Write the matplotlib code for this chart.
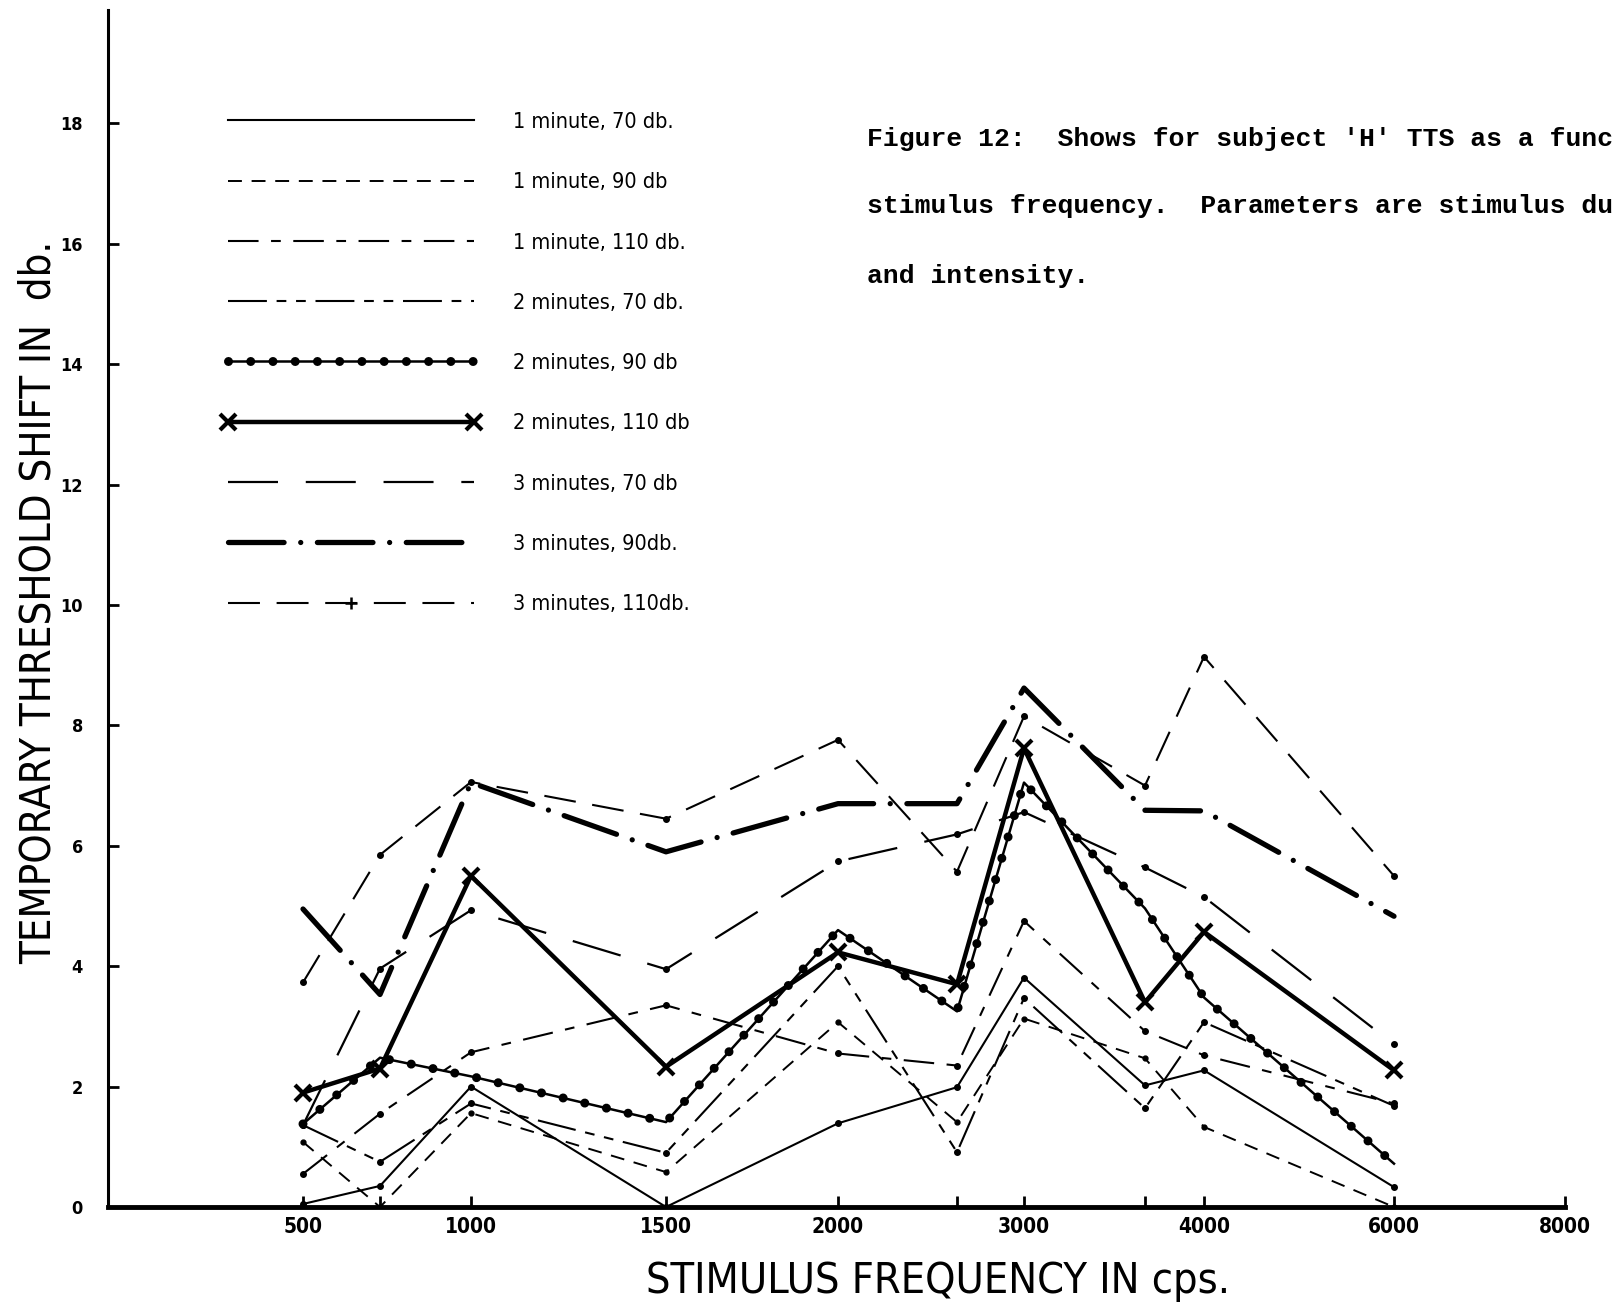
import numpy as np
import matplotlib
matplotlib.use("Agg")
import matplotlib.pyplot as plt
from matplotlib.lines import Line2D
from matplotlib.legend_handler import HandlerLine2D

plt.rcParams['lines.scale_dashes'] = False

# stimulus frequencies (cps) and TTS (db) for subject 'H'
freqs = [500, 750, 1000, 1500, 2000, 2500, 3000, 3500, 4000, 6000]
min1_70db = [0.05, 0.35, 2.0, 0.0, 1.39, 1.99, 3.81, 2.02, 2.27, 0.33]
min1_90db = [1.08, 0.0, 1.56, 0.58, 3.07, 1.41, 3.13, 2.47, 1.33, 0.0]
min1_110db = [0.55, 1.55, 2.57, 3.35, 2.55, 2.35, 4.75, 2.92, 2.52, 1.72]
min2_70db = [1.36, 0.75, 1.72, 0.9, 4.0, 0.91, 3.47, 1.64, 3.07, 1.68]
min2_90db = [1.38, 2.48, 2.17, 1.41, 4.6, 3.25, 7.05, 4.96, 3.48, 0.72]
min2_110db = [1.9, 2.3, 5.5, 2.33, 4.23, 3.7, 7.62, 3.4, 4.57, 2.27]
min3_70db = [1.36, 3.96, 4.93, 3.95, 5.74, 6.19, 6.56, 5.64, 5.15, 2.7]
min3_90db = [4.95, 3.53, 7.05, 5.9, 6.7, 6.7, 8.62, 6.59, 6.58, 4.83]
min3_110db = [3.73, 5.85, 7.06, 6.45, 7.76, 5.57, 8.15, 7.0, 9.14, 5.5]

legend_labels = ["1 minute, 70 db.", "1 minute, 90 db", "1 minute, 110 db.",
                 "2 minutes, 70 db.", "2 minutes, 90 db", "2 minutes, 110 db",
                 "3 minutes, 70 db", "3 minutes, 90db.", "3 minutes, 110db."]
xtick_freqs = [500, 1000, 1500, 2000, 3000, 4000, 6000, 8000]
xminor_freqs = [750, 2500, 3500]
yticks = [0, 2, 4, 6, 8, 10, 12, 14, 16, 18]

# the hand-drawn frequency axis is not linear: where each frequency sits (figure px)
axis_freqs = [0, 500, 750, 1000, 1500, 2000, 2500, 3000, 3500, 4000, 6000, 8000]
axis_px = [108, 303, 380, 471, 666, 838, 957, 1024, 1145, 1204, 1394, 1565]


def fwd(f):
    return np.interp(f, axis_freqs, axis_px)


def inv(p):
    return np.interp(p, axis_px, axis_freqs)


W, H = 1613, 1314
ink = 'black'
lettering = dict(family='DejaVu Sans', stretch='condensed')

fig = plt.figure(figsize=(W / 100, H / 100), dpi=100)
ax = fig.add_axes([108 / W, 1 - 1207 / H, (1565 - 108) / W, (1207 - 10) / H])
ax.set_xscale('function', functions=(fwd, inv))
ax.set_xlim(0, 8000)
ax.set_ylim(0, (1207 - 10) / 60.2)

# styles
st1_70 = dict(color=ink, lw=1.5)
st1_90 = dict(color=ink, lw=1.4, ls=(0, (10, 7)))
st1_110 = dict(color=ink, lw=1.5, ls=(0, (22, 9, 7, 9)))
st2_70 = dict(color=ink, lw=1.5, ls=(0, (28, 7, 7, 7, 7, 7)))
st2_90 = dict(color=ink, lw=1.8)
st2_90dots = dict(color=ink, lw=6.5, ls=(0, (0.01, 16)), dash_capstyle='round')
st2_110 = dict(color=ink, lw=3.2, marker='x', ms=11, mew=3)
st3_70 = dict(color=ink, lw=1.6, ls=(0, (36, 20)))
st3_90 = dict(color=ink, lw=3.8, ls=(0, (40, 12, 0.01, 12)), dash_capstyle='round')
st3_110 = dict(color=ink, lw=1.5, ls=(0, (23, 12)))
pt = dict(marker='o', ms=4)

ax.plot(freqs, min1_70db, **st1_70, **pt)
ax.plot(freqs, min1_90db, **st1_90, marker='o', ms=3.5)
ax.plot(freqs, min1_110db, **st1_110, **pt)
ax.plot(freqs, min2_70db, **st2_70, **pt)
ax.plot(freqs, min3_70db, **st3_70, **pt)
ax.plot(freqs, min3_110db, **st3_110, **pt)
ax.plot(freqs, min3_90db, **st3_90)
ax.plot(freqs, min2_90db, **st2_90)
ax.plot(freqs, min2_90db, **st2_90dots)
ax.plot(freqs, min2_110db, **st2_110)

# legend
plus_mark = Line2D([], [], color=ink, ls='none', marker='+', ms=8, mew=1.8)
handles = [Line2D([], [], **st1_70), Line2D([], [], **st1_90), Line2D([], [], **st1_110),
           Line2D([], [], **st2_70),
           (Line2D([], [], **st2_90), Line2D([], [], **st2_90dots)),
           Line2D([], [], **st2_110),
           Line2D([], [], **st3_70), Line2D([], [], **st3_90),
           (Line2D([], [], **st3_110), plus_mark)]
ax.legend(handles, legend_labels, loc='upper left',
          bbox_to_anchor=(222 / W, 1 - 112 / H), bbox_transform=fig.transFigure,
          frameon=False, numpoints=2, handlelength=12.0, handletextpad=1.5,
          labelspacing=1.87, borderpad=0, borderaxespad=0,
          prop=dict(size=15.5, **lettering),
          handler_map={plus_mark: HandlerLine2D(numpoints=1)})

# axes look
for s in ['top', 'right']:
    ax.spines[s].set_visible(False)
ax.spines['left'].set_linewidth(2.2)
ax.spines['bottom'].set_linewidth(3.5)
ax.set_xticks(xtick_freqs)
ax.set_xticklabels([str(f) for f in xtick_freqs], weight='bold', fontsize=15, **lettering)
ax.set_xticks(xminor_freqs, minor=True)
ax.set_yticks(yticks)
ax.set_yticklabels([str(v) for v in yticks], weight='bold', fontsize=13, **lettering)
ax.tick_params(axis='both', which='both', direction='in', length=8, width=2, color=ink)
ax.tick_params(axis='x', pad=7)
ax.tick_params(axis='y', pad=18)

fig.text(938 / W, 1 - 1281 / H, 'STIMULUS FREQUENCY IN cps.', ha='center', va='center',
         fontsize=31, **lettering)
fig.text(39 / W, 1 - 602 / H, 'TEMPORARY THRESHOLD SHIFT IN  db.', ha='center', va='center',
         rotation=90, fontsize=30, **lettering)

cap = dict(family=['Liberation Mono', 'DejaVu Sans Mono'], fontsize=19, weight='bold',
           ha='left', va='center')
fig.text(867 / W, 1 - 139 / H, "Figure 12:  Shows for subject 'H' TTS as a func", **cap)
fig.text(867 / W, 1 - 206 / H, "stimulus frequency.  Parameters are stimulus du", **cap)
fig.text(867 / W, 1 - 276 / H, "and intensity.", **cap)

fig.savefig('out.png', dpi=100, facecolor='white')
